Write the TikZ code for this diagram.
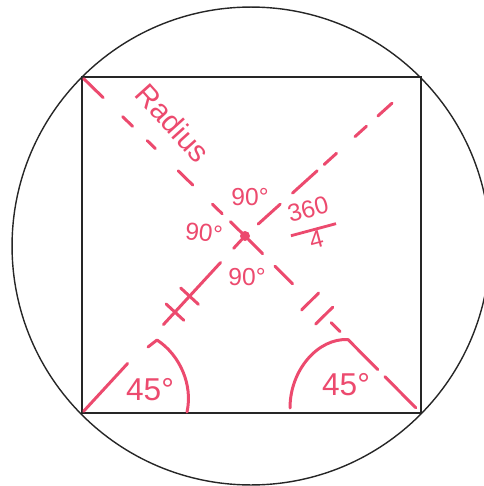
\documentclass[tikz,border=0pt]{standalone}
\usepackage{fontspec}
\setmainfont{Liberation Sans}
\usetikzlibrary{calc}
\definecolor{ink}{gray}{0.15}
\definecolor{marker}{RGB}{236,74,110}

\begin{document}
\begin{tikzpicture}[x=0.02cm, y=-0.02cm,
  pen/.style={draw=marker, line width=1.7pt, line cap=round, line join=round},
  lbl/.style={text=marker, inner sep=0pt},
  small/.style={lbl, font=\fontsize{14}{14}\selectfont},
  big/.style={lbl, font=\fontsize{18}{18}\selectfont}]
\useasboundingbox (0,0) rectangle (483,486);
\draw[ink, line width=0.8pt] (251,246) circle[radius=4.78cm];

\coordinate (tl) at (82,77);
\coordinate (tr) at (421,77);
\coordinate (br) at (421,413);
\coordinate (bl) at (82,413);
\coordinate (ctr) at (245,236);
\draw[ink, line width=1.3pt] (tl) -- (tr) -- (br) -- (bl) -- cycle;

% hand drawn diagonals, pieces given as fractions from the centre
\foreach \a/\b in {0.02/0.09, 0.14/0.2, 0.32/0.41, 0.55/0.6, 0.69/0.75, 0.87/0.99}
  \draw[pen] ($(ctr)!\a!(tl)$) -- ($(ctr)!\b!(tl)$);
\foreach \a/\b in {0.075/0.2, 0.27/0.41, 0.45/0.52, 0.625/0.69, 0.755/0.835}
  \draw[pen] ($(ctr)!\a!(tr)$) -- ($(ctr)!\b!(tr)$);
\foreach \a/\b in {0.02/0.07, 0.15/0.5, 0.72/0.99}
  \draw[pen] ($(ctr)!\a!(bl)$) -- ($(ctr)!\b!(bl)$);
\foreach \a/\b in {0.02/0.1, 0.17/0.27, 0.49/0.54, 0.795/0.97}
  \draw[pen] ($(ctr)!\a!(br)$) -- ($(ctr)!\b!(br)$);
\fill[marker] (ctr) circle[radius=0.1cm];

% equal-length ticks
\foreach \t in {0.34, 0.43} {
  \coordinate (tk) at ($(ctr)!\t!(bl)$);
  \draw[pen] ($(tk)!0.24cm!90:(bl)$) -- ($(tk)!0.24cm!-90:(bl)$);
}
\foreach \t in {0.37, 0.45} {
  \coordinate (tk) at ($(ctr)!\t!(br)$);
  \draw[pen] ($(tk)!0.24cm!90:(br)$) -- ($(tk)!0.24cm!-90:(br)$);
}

% corner angles
\draw[pen] (148,347) -- (157,340) .. controls (180,355) and (193,385) .. (187,412);
\coordinate (brtop) at ($(ctr)!0.585!(br)$);
\draw[pen] (290,408) .. controls (290,370) and (318,338) .. (brtop) -- ($(ctr)!0.755!(br)$);

\node[lbl, font=\fontsize{17}{17}\selectfont, rotate=-48] (radius) at (173,123) {Radius};
\node[small] (top90) at (250,197) {90°};
\node[small, rotate=-6] (left90) at (204,233) {90°};
\node[small] (bot90) at (247,277) {90°};
\node[lbl, font=\fontsize{14}{14}\selectfont, rotate=15] (quarter) at (313,228)
  {\begin{tabular}{@{}c@{}}360\\[-6pt]\rule{1.9em}{1.6pt}\\[-4pt]4\end{tabular}};
\node[big] (left45) at (150,390) {45°};
\node[big] (right45) at (346,385) {45°};
\end{tikzpicture}
\end{document}
